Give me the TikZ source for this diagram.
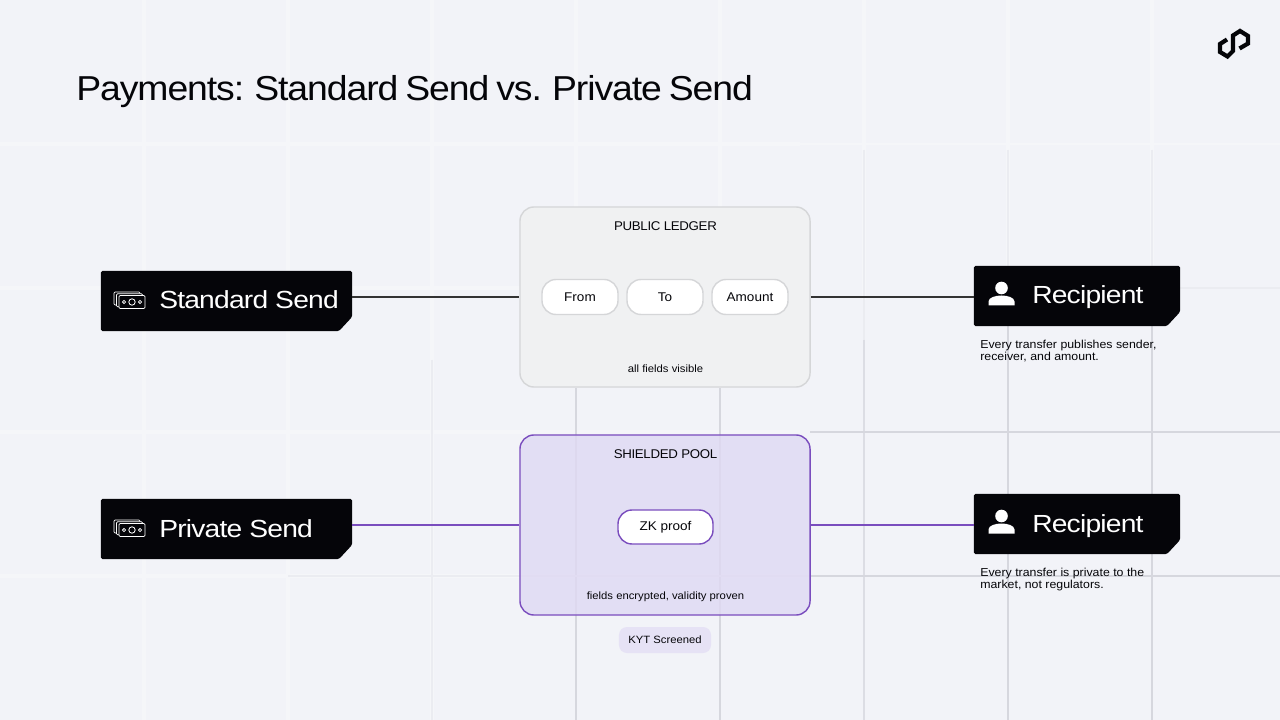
\documentclass[tikz,border=0pt]{standalone}
\usepackage{fontspec}
\setmainfont[FakeStretch=1.07]{Liberation Sans}
\newfontfamily\titlefont[FakeStretch=1.08,LetterSpace=-3.1,WordSpace=0.75]{Liberation Sans}
\newfontfamily\tagfont[FakeStretch=1.14,LetterSpace=-3.2]{Liberation Sans}
\newfontfamily\headfont[FakeStretch=1.05,LetterSpace=-2.6]{Liberation Sans}
\usepackage{xcolor}
\usetikzlibrary{positioning,calc}

\definecolor{pagebg}{HTML}{F2F3F8}
\definecolor{gridlight}{HTML}{F5F6F9}
\definecolor{gridmid}{HTML}{EBECF1}
\definecolor{griddark}{HTML}{D6D7DE}
\definecolor{inkblack}{HTML}{050509}
\definecolor{ledgerfill}{HTML}{F0F1F2}
\definecolor{ledgerline}{HTML}{D5D6D8}
\definecolor{poolfill}{HTML}{DFD9F3}
\definecolor{poolline}{HTML}{7A4DBE}
\definecolor{kytfill}{HTML}{E6E2F5}

\tikzset{
	tagbox/.style={minimum height=1.5cm,inner sep=0pt,outer sep=0pt},
	taglabel/.style={anchor=base west,text=white,font=\tagfont\fontsize{17.6}{20}\selectfont,inner sep=0pt},
	bigbox/.style={minimum width=7.25cm,minimum height=4.5cm,rounded corners=0.35cm,line width=1pt},
	fieldbox/.style={minimum width=1.9cm,minimum height=0.875cm,rounded corners=0.35cm,fill=white,draw=ledgerline,line width=1pt,font=\fontsize{9}{11}\selectfont,text=inkblack,inner sep=0pt},
	boxtitle/.style={font=\headfont\fontsize{9}{11}\selectfont,text=inkblack,inner sep=0pt},
	boxnote/.style={font=\fontsize{7.5}{9}\selectfont,text=inkblack,inner sep=0pt},
	caption/.style={anchor=north west,align=left,font=\fontsize{8.2}{8.6}\selectfont,text=inkblack,inner sep=0pt},
	link/.style={line width=1.4pt},
	moneyicon/.pic={
		\foreach \dx/\dy in {-5/-3.5,-2.5/-1.75,0/0}{
			\draw[white,fill=inkblack,line width=0.6pt,rounded corners=0.8pt] (-13+\dx,-6.5+\dy) rectangle (13+\dx,6.5+\dy);
		}
		\draw[white,line width=0.6pt] (0,0) circle (3.2) (-8,0) circle (1.6) (8,0) circle (1.6);
	},
	personicon/.pic={
		\fill[white] (0,-7.5) circle (6.3);
		\fill[white] (-13,10) -- (-13,6) .. controls (-13,2) and (-6,0) .. (0,0) .. controls (6,0) and (13,2) .. (13,6) -- (13,10) -- cycle;
	},
}

\begin{document}
\begin{tikzpicture}[x=0.025cm,y=-0.025cm]
	\useasboundingbox (0,0) rectangle (1280,720);
	\fill[pagebg] (0,0) rectangle (1280,720);

	% faint grid behind everything
	\foreach \gx in {144,288,432}{
		\draw[gridlight,line width=2.5pt] (\gx,0) -- (\gx,720);
	}
	\foreach \gx in {576,720,864,1008,1152}{
		\draw[gridlight,line width=2.5pt] (\gx,0) -- (\gx,300);
	}
	\foreach \gy in {144,288,432,576}{
		\draw[gridlight,line width=2.5pt] (0,\gy) -- (800,\gy);
	}
	\draw[gridlight,line width=1.5pt] (800,144) -- (1280,144);
	\foreach \gx in {864,1008,1152}{
		\draw[gridmid,line width=1pt] (\gx,150) -- (\gx,340);
	}
	\draw[gridmid,line width=1pt] (1000,288) -- (1280,288);
	\foreach \gx in {576,720}{
		\draw[griddark,line width=1.2pt] (\gx,388) -- (\gx,720);
	}
	\draw[griddark!70!gridmid,line width=1.2pt] (864,340) -- (864,720);
	\foreach \gx in {1008,1152}{
		\draw[griddark,line width=1.2pt] (\gx,326) -- (\gx,720);
	}
	\foreach \gy in {432,576}{
		\draw[griddark,line width=1.2pt] (810,\gy) -- (1280,\gy);
	}
	\draw[gridmid,line width=1pt] (288,576) -- (810,576);
	\draw[gridmid,line width=1pt] (432,360) -- (432,720);

	\node[anchor=base west,inner sep=0pt,text=inkblack,font=\titlefont\fontsize{24.6}{28}\selectfont] (title) at (76,101) {Payments: Standard Send vs. Private Send};

	% logo
	\draw[inkblack,line width=3pt,line join=miter] (1239.5,48.5) -- (1248,43.5) -- (1248,36) -- (1240,31) -- (1233,35.5) -- (1233,51) -- (1227.5,56.5) -- (1220,52) -- (1220,44) -- (1227,39.5);

	% top row
	\node[bigbox,fill=ledgerfill,draw=ledgerline] (ledger) at (665,297) {};
	\node[boxtitle] (ledgertitle) at (665.5,226) {PUBLIC LEDGER};
	\node[fieldbox] (from) at (580,297) {From};
	\node[fieldbox] (to) at (665,297) {To};
	\node[fieldbox] (amount) at (750,297) {Amount};
	\node[boxnote] (ledgernote) at (665.5,369) {all fields visible};

	% bottom row
	\node[bigbox,fill=poolfill,fill opacity=0.8,draw=poolline,draw opacity=1] (pool) at (665,525) {};
	\node[boxtitle] (pooltitle) at (665.5,454) {SHIELDED POOL};
	\node[fieldbox,minimum width=2.375cm,minimum height=0.85cm,draw=poolline] (zk) at (665.5,527) {ZK proof};
	\node[boxnote] (poolnote) at (665.5,597) {fields encrypted, validity proven};
	\node[boxnote,fill=kytfill,minimum width=2.3cm,minimum height=0.65cm,rounded corners=0.2cm] (kyt) at (665,640) {KYT Screened};

	% black tags with the cut corner
	\node[tagbox,minimum width=6.275cm] (stdsend) at (226.5,301) {};
	\node[tagbox,minimum width=5.15cm] (stdrecv) at (1077,296) {};
	\node[tagbox,minimum width=6.275cm] (prvsend) at (226.5,529) {};
	\node[tagbox,minimum width=5.15cm] (prvrecv) at (1077,524) {};
	\foreach \tagname in {stdsend,stdrecv,prvsend,prvrecv}{
		\fill[inkblack,rounded corners=1pt] (\tagname.north west) -- (\tagname.north east) -- ($(\tagname.south east)+(0,-14)$) -- ($(\tagname.south east)+(-13,0)$) -- (\tagname.south west) -- cycle;
	}

	\node[taglabel,shift={(58,8)}] (stdsendtext) at (stdsend.west) {Standard Send};
	\pic at (132,302) {moneyicon};
	\node[taglabel,shift={(58,8)}] (stdrecvtext) at (stdrecv.west) {Recipient};
	\pic at (1001.5,295.5) {personicon};
	\node[caption] (stdnote) at (980,340) {Every transfer publishes sender,\\receiver, and amount.};

	\node[taglabel,shift={(58,8)}] (prvsendtext) at (prvsend.west) {Private Send};
	\pic at (132,530) {moneyicon};
	\node[taglabel,shift={(58,8)}] (prvrecvtext) at (prvrecv.west) {Recipient};
	\pic at (1001.5,523.5) {personicon};
	\node[caption] (prvnote) at (980,568) {Every transfer is private to the\\market, not regulators.};

	\draw[link,draw=black!80] (stdsend.east |- from) -- (ledger.west |- from);
	\draw[link,draw=black!80] (ledger.east |- from) -- (stdrecv.west |- from);
	\draw[link,draw=poolline] (prvsend.east |- pool) -- (pool.west);
	\draw[link,draw=poolline] (pool.east) -- (prvrecv.west |- pool);
\end{tikzpicture}
\end{document}
